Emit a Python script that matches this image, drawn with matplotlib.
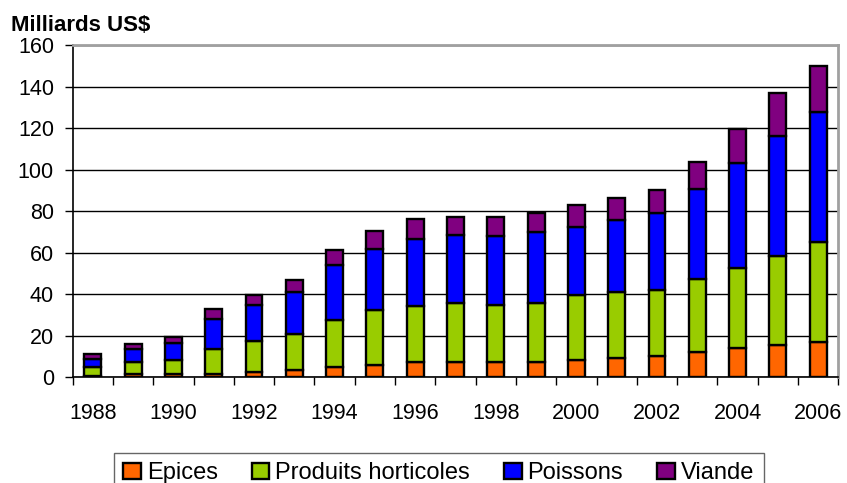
import numpy as np
import matplotlib.pyplot as plt

plt.rcParams['font.family'] = ['Liberation Sans', 'DejaVu Sans']

years = list(range(1988, 2007))
# Milliards US$ per product group
epices = [0.5, 1.2, 1.2, 1.5, 2.2, 3.4, 4.7, 5.6, 7.3, 7.3, 7.3, 7.3, 8.4, 9.2, 10.0, 12.1, 14.0, 15.6, 16.7]
horticoles = [4.3, 6.0, 6.9, 11.9, 15.2, 17.2, 23.0, 26.5, 26.9, 28.2, 27.4, 28.2, 31.4, 31.8, 31.9, 35.0, 38.8, 42.8, 48.2]
poissons = [4.1, 6.5, 8.5, 14.8, 17.2, 20.3, 26.2, 29.5, 32.6, 32.9, 33.1, 34.5, 32.8, 34.7, 37.1, 43.6, 50.3, 57.8, 62.9]
viande = [2.1, 2.4, 2.7, 4.8, 4.9, 6.0, 7.4, 8.9, 9.3, 9.0, 9.2, 9.0, 10.3, 10.5, 11.2, 13.2, 16.6, 20.9, 22.2]

series = [('Epices', epices, '#FF6600'),
          ('Produits horticoles', horticoles, '#99CC00'),
          ('Poissons', poissons, '#0000FF'),
          ('Viande', viande, '#800080')]

fig = plt.figure(figsize=(8.47, 4.83), dpi=100)
ax = fig.add_axes([0.0858, 0.2195, 0.904, 0.6865])

x = np.arange(len(years))
bottom = np.zeros(len(years))
handles = []
for name, vals, col in series:
    h = ax.bar(x, vals, width=0.42, bottom=bottom, color=col,
               edgecolor='black', linewidth=1.7, label=name, zorder=3)
    handles.append(h)
    bottom += np.array(vals)

ax.set_xlim(-0.5, len(years) - 0.5)
ax.set_ylim(0, 160)
ax.set_yticks(range(0, 161, 20))
ax.yaxis.grid(True, color='black', linewidth=1, zorder=0)

ax.set_xticks(x[::2])
ax.set_xticklabels([str(y) for y in years[::2]])
ax.set_xticks(np.arange(-0.5, len(years), 1), minor=True)
ax.tick_params(axis='x', which='major', length=0, pad=19, labelsize=15.5)
ax.tick_params(axis='x', which='minor', length=6, width=1, direction='out')
ax.tick_params(axis='y', length=5.5, width=1, direction='out', labelsize=15.5, pad=8)

for s in ['top', 'right']:
    ax.spines[s].set_color('#A0A0A0')
    ax.spines[s].set_linewidth(2)
for s in ['left', 'bottom']:
    ax.spines[s].set_color('black')
    ax.spines[s].set_linewidth(1.2)

fig.text(0.013, 0.936, 'Milliards US$', fontsize=16, fontweight='bold', va='baseline')

leg = fig.legend(handles=handles, loc='upper center', bbox_to_anchor=(0.518, 0.0625),
                 ncol=4, fontsize=17, frameon=True, fancybox=False,
                 handlelength=0.74, handleheight=0.62, handletextpad=0.25,
                 columnspacing=1.45, borderpad=0.4, borderaxespad=0)
leg.get_frame().set_edgecolor('#404040')
leg.get_frame().set_linewidth(1)

fig.savefig('out.png', dpi=100)
